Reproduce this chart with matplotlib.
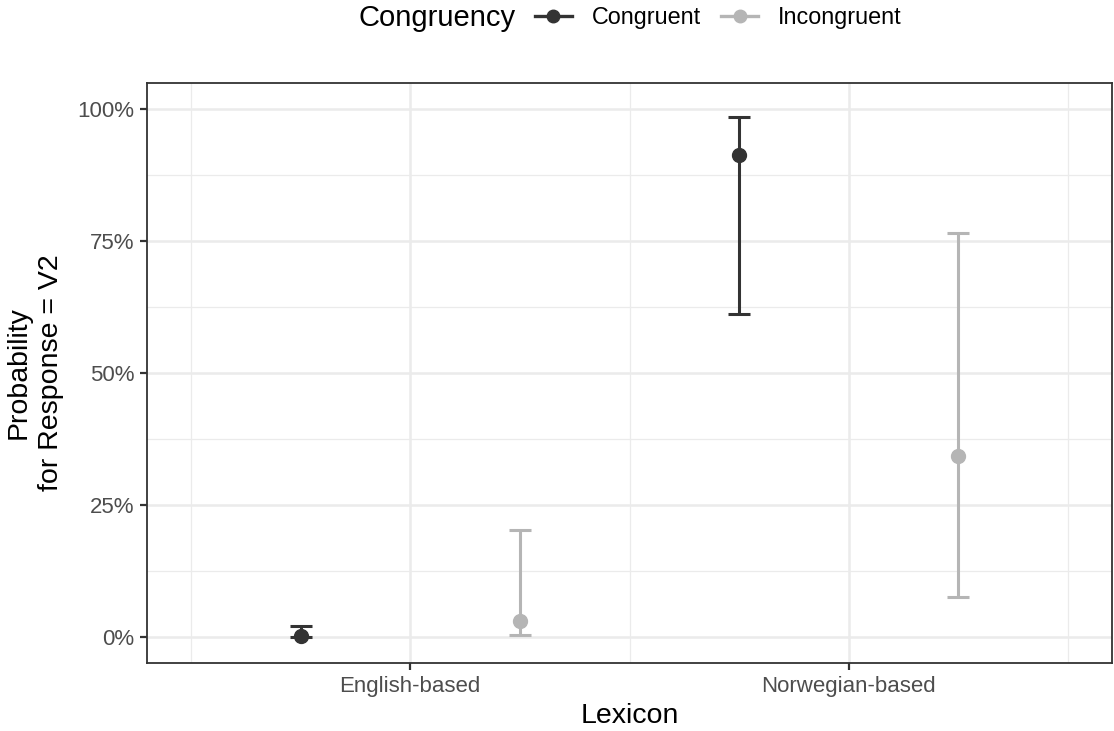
import matplotlib
matplotlib.use('Agg')
import matplotlib.pyplot as plt
from matplotlib.lines import Line2D
from matplotlib.ticker import FuncFormatter, FixedLocator

plt.rcParams['font.family'] = ['Liberation Sans', 'DejaVu Sans']

lexicon = ['English-based', 'Norwegian-based']
congruency = ['Congruent', 'Incongruent']
congruent_est = [0.002, 0.913]
congruent_lo = [0.000, 0.611]
congruent_hi = [0.020, 0.986]
incongruent_est = [0.029, 0.342]
incongruent_lo = [0.004, 0.076]
incongruent_hi = [0.203, 0.765]

colors = ['#333333', '#b5b5b5']
dodge = 0.25

fig = plt.figure(figsize=(11.14, 7.31), dpi=100)
ax = fig.add_axes([0.1320, 0.0930, 0.8662, 0.7935])

series = [(congruent_est, congruent_lo, congruent_hi),
          (incongruent_est, incongruent_lo, incongruent_hi)]
for k, (est, lo, hi) in enumerate(series):
    xs = [i + 1 + (k - 0.5) * 2 * dodge for i in range(len(lexicon))]
    yerr = [[e - l for e, l in zip(est, lo)], [h - e for e, h in zip(est, hi)]]
    ax.errorbar(xs, est, yerr=yerr, fmt='o', color=colors[k], ecolor=colors[k],
                elinewidth=2.2, capsize=8, capthick=2.2, markersize=10, zorder=3)

ax.set_xlim(0.4, 2.6)
ax.set_ylim(-0.05, 1.05)
ax.set_xticks([1, 2])
ax.set_xticklabels(lexicon)
ax.xaxis.set_minor_locator(FixedLocator([0.5, 1.5, 2.5]))
ax.yaxis.set_major_locator(FixedLocator([0, 0.25, 0.5, 0.75, 1.0]))
ax.yaxis.set_minor_locator(FixedLocator([0.125, 0.375, 0.625, 0.875]))
ax.yaxis.set_major_formatter(FuncFormatter(lambda v, p: f'{v * 100:.0f}%'))

ax.grid(which='major', color='#ebebeb', linewidth=1.8)
ax.grid(which='minor', color='#ebebeb', linewidth=0.9)
ax.set_axisbelow(True)
for s in ax.spines.values():
    s.set_color('#333333')
    s.set_linewidth(1.3)
ax.tick_params(which='major', length=5, width=1.6, color='#333333',
               labelsize=16, labelcolor='#4d4d4d', pad=4)
ax.tick_params(which='minor', length=0)

ax.set_xlabel('Lexicon', fontsize=20.5, labelpad=5)
ax.set_ylabel('Probability\nfor Response = V2', fontsize=20.5, labelpad=10,
              linespacing=1.3)

handles = [Line2D([], [], color=c, marker='o', markersize=9, linewidth=2.4) for c in colors]
fig.text(0.4625, 0.976, 'Congruency', fontsize=21, ha='right', va='center')
fig.legend(handles, congruency, loc='center left', bbox_to_anchor=(0.480, 0.976),
           ncol=2, frameon=False, fontsize=16.8, handlelength=1.6, handletextpad=0.85,
           columnspacing=0.85, borderpad=0, borderaxespad=0)

fig.savefig('out.png', dpi=100)
